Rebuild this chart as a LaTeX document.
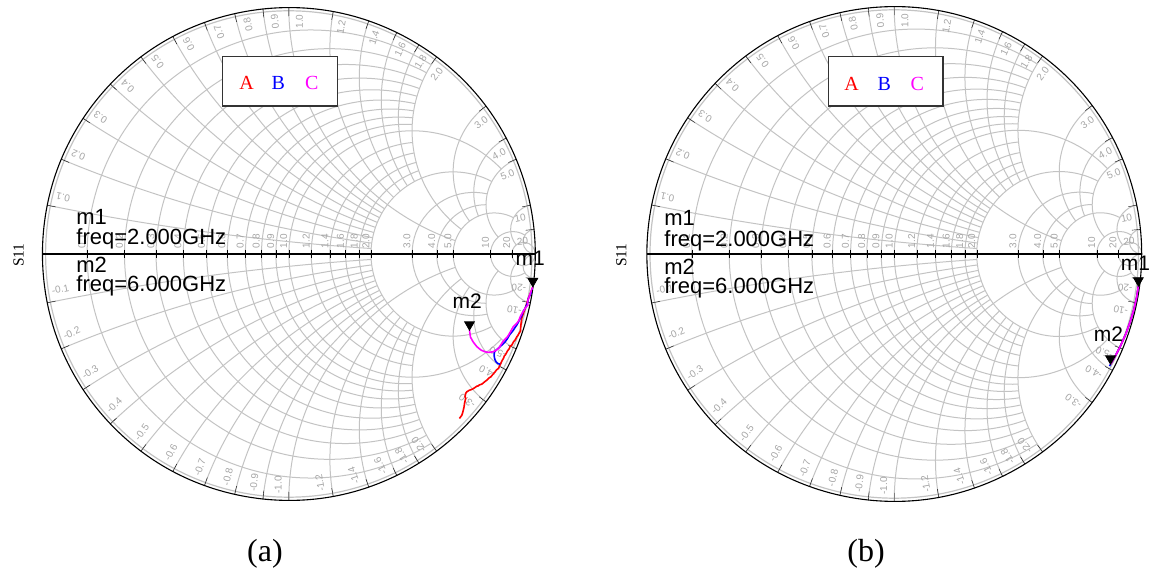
\documentclass[border=0pt]{standalone}
\usepackage{pgfplots}
\pgfplotsset{compat=1.18}
\usepgfplotslibrary{smithchart}
\usepackage{fontspec}
\setmainfont{Liberation Serif}
\newfontfamily\arial{Liberation Sans}
\definecolor{gridgray}{RGB}{195,195,195}
\definecolor{labgray}{RGB}{165,165,165}
\definecolor{cmag}{RGB}{255,0,255}

\pgfplotsset{
  myS/.style={
    scale only axis, width=#1, height=#1,
    anchor=center,
    xtick={0.1,0.2,0.3,0.4,0.5,0.6,0.7,0.8,0.9,1.0,1.2,1.4,1.6,1.8,2,3,4,5,10,20},
    xticklabels={0.1,0.2,0.3,0.4,0.5,0.6,0.7,0.8,0.9,1.0,1.2,1.4,1.6,1.8,2.0,3.0,4.0,5.0,10,20},
    ytick={-20,-10,-5,-4,-3,-2,-1.8,-1.6,-1.4,-1.2,-1,-0.9,-0.8,-0.7,-0.6,-0.5,-0.4,-0.3,-0.2,-0.1,0.1,0.2,0.3,0.4,0.5,0.6,0.7,0.8,0.9,1,1.2,1.4,1.6,1.8,2,3,4,5,10,20},
    yticklabels={-20,-10,-5.0,-4.0,-3.0,-2.0,-1.8,-1.6,-1.4,-1.2,-1.0,-0.9,-0.8,-0.7,-0.6,-0.5,-0.4,-0.3,-0.2,-0.1,0.1,0.2,0.3,0.4,0.5,0.6,0.7,0.8,0.9,1.0,1.2,1.4,1.6,1.8,2.0,3.0,4.0,5.0,10,20},
    xgrid stop at y={0.1:2,0.2:2,0.3:2,0.4:2,0.5:2,0.6:2,0.7:2,0.8:2,0.9:2,1:5,1.2:2,1.4:2,1.6:2,1.8:2,2:5,3:5,4:5,5:10,10:20},
    ygrid stop at x={-10:20,-5:10,-4:5,-3:5,-2:5,-1.8:2,-1.6:2,-1.4:2,-1.2:2,-1:5,-0.9:2,-0.8:2,-0.7:2,-0.6:2,-0.5:2,-0.4:2,-0.3:2,-0.2:2,-0.1:2,0.1:2,0.2:2,0.3:2,0.4:2,0.5:2,0.6:2,0.7:2,0.8:2,0.9:2,1:5,1.2:2,1.4:2,1.6:2,1.8:2,2:5,3:5,4:5,5:10,10:20},
    grid style={gridgray, line width=0.5pt},
    axis line style={black, line width=0.55pt},
    xticklabel style={font=\arial\fontsize{5}{6}\selectfont, text=labgray, rotate=90, anchor=south west, inner sep=0.6pt},
    yticklabel style={font=\arial\fontsize{5}{6}\selectfont, text=labgray},
    yticklabel in circle,
  },
  crv/.style={line width=0.8pt, is smithchart cs},
  mk/.style={only marks, mark=triangle*, mark size=2.8pt,
    mark options={black, fill=black, yshift=2.8pt, rotate=180},
    is smithchart cs, nodes near coords, point meta=explicit symbolic},
}

\begin{document}
\begin{tikzpicture}
% ---------------- (a) ----------------
\draw[gridgray, line width=0.6pt] (144.4pt,-127pt) circle (121.6pt);
\begin{smithchart}[myS=246.5pt, at={(144.4pt,-127pt)}]
\addplot[red, crv] coordinates {
(0.990,-0.135) (0.972,-0.180) (0.959,-0.220) (0.945,-0.260) (0.941,-0.292)
(0.940,-0.313) (0.934,-0.322) (0.929,-0.331) (0.926,-0.334) (0.924,-0.338) (0.918,-0.349)
(0.912,-0.356) (0.905,-0.369) (0.898,-0.374) (0.895,-0.383) (0.888,-0.392)
(0.882,-0.403) (0.878,-0.410) (0.874,-0.414) (0.871,-0.423) (0.866,-0.431) (0.860,-0.444)
(0.856,-0.452) (0.851,-0.464) (0.843,-0.470) (0.837,-0.478) (0.829,-0.487)
(0.820,-0.498) (0.812,-0.503) (0.803,-0.512) (0.794,-0.519) (0.783,-0.528)
(0.773,-0.531) (0.769,-0.535) (0.763,-0.536) (0.752,-0.544) (0.743,-0.549) (0.732,-0.553)
(0.722,-0.559) (0.719,-0.563) (0.717,-0.568) (0.715,-0.579) (0.718,-0.586) (0.716,-0.592) (0.713,-0.606)
(0.711,-0.620) (0.708,-0.633) (0.705,-0.645) (0.702,-0.654) (0.697,-0.661)
(0.692,-0.667)};
\addplot[blue, crv] coordinates {
(0.990,-0.135) (0.982,-0.160) (0.972,-0.180) (0.968,-0.200) (0.959,-0.220)
(0.950,-0.234) (0.946,-0.248) (0.939,-0.261) (0.932,-0.275) (0.925,-0.288)
(0.918,-0.298) (0.911,-0.309) (0.903,-0.319) (0.895,-0.329) (0.887,-0.343)
(0.878,-0.356) (0.868,-0.366) (0.857,-0.376) (0.848,-0.384) (0.841,-0.390)
(0.834,-0.398) (0.833,-0.410) (0.834,-0.420) (0.837,-0.430) (0.842,-0.439)
(0.847,-0.444) (0.857,-0.447)};
\addplot[cmag, crv] coordinates {
(0.990,-0.133) (0.979,-0.162) (0.968,-0.194) (0.970,-0.207) (0.959,-0.220)
(0.946,-0.241) (0.939,-0.254) (0.933,-0.270) (0.925,-0.281) (0.910,-0.296)
(0.905,-0.305) (0.896,-0.321) (0.887,-0.336) (0.876,-0.347) (0.868,-0.356)
(0.860,-0.369) (0.851,-0.383) (0.839,-0.392) (0.827,-0.397) (0.811,-0.399)
(0.797,-0.397) (0.780,-0.390) (0.763,-0.376) (0.748,-0.357) (0.737,-0.337)
(0.733,-0.309)};
\addplot[mk, every node near coord/.append style={font=\arial\fontsize{10.5}{12}\selectfont, anchor=base, xshift=-1.35pt, yshift=8pt}]
  coordinates {(0.990,-0.133) [m1]};
\addplot[mk, every node near coord/.append style={font=\arial\fontsize{10.5}{12}\selectfont, anchor=base, xshift=-1.15pt, yshift=8pt}]
  coordinates {(0.733,-0.309) [m2]};
\end{smithchart}
% ---------------- (b) ----------------
\draw[gridgray, line width=0.6pt] (447.1pt,-127pt) circle (122.1pt);
\begin{smithchart}[myS=247.5pt, at={(447.1pt,-127pt)}]
\addplot[red, crv] coordinates {
(0.9865,-0.1299) (0.9799,-0.1728) (0.9685,-0.2236) (0.9536,-0.2734)
(0.9361,-0.3223) (0.9151,-0.3697) (0.8954,-0.4081) (0.8741,-0.4454)};
\addplot[blue, crv] coordinates {
(0.9865,-0.1299) (0.9799,-0.1728) (0.9685,-0.2236) (0.9536,-0.2734)
(0.9361,-0.3223) (0.9151,-0.3697) (0.8954,-0.4081) (0.8741,-0.4454) (0.8700,-0.4530)};
\addplot[cmag, crv] coordinates {
(0.9865,-0.1299) (0.9799,-0.1728) (0.9685,-0.2236) (0.9536,-0.2734)
(0.9361,-0.3223) (0.9151,-0.3697) (0.8954,-0.4081) (0.8741,-0.4454)};
\addplot[mk, every node near coord/.append style={font=\arial\fontsize{10.5}{12}\selectfont, anchor=base, xshift=-1.5pt, yshift=5pt}]
  coordinates {(0.9865,-0.1299) [m1]};
\addplot[mk, every node near coord/.append style={font=\arial\fontsize{10.5}{12}\selectfont, anchor=base, xshift=-1pt, yshift=8.6pt}]
  coordinates {(0.8741,-0.4454) [m2]};
\end{smithchart}
% ---------------- annotations ----------------
\node[draw=black!80, line width=0.7pt, fill=white, minimum width=57.3pt, minimum height=24.65pt, inner sep=0] at (140pt,-40.7pt) {};
\node[anchor=base, text=red, font=\fontsize{10}{12}\selectfont] at (123.35pt,-45pt) {A};
\node[anchor=base, text=blue, font=\fontsize{10}{12}\selectfont] at (139.15pt,-45pt) {B};
\node[anchor=base, text=cmag, font=\fontsize{10}{12}\selectfont] at (155.85pt,-45pt) {C};
\node[draw=black!80, line width=0.7pt, fill=white, minimum width=57.3pt, minimum height=24.65pt, inner sep=0] at (442.9pt,-40.7pt) {};
\node[anchor=base, text=red, font=\fontsize{10}{12}\selectfont] at (425.85pt,-45.2pt) {A};
\node[anchor=base, text=blue, font=\fontsize{10}{12}\selectfont] at (442.15pt,-45.2pt) {B};
\node[anchor=base, text=cmag, font=\fontsize{10}{12}\selectfont] at (458.65pt,-45.2pt) {C};
% marker readouts
\begin{scope}[every node/.style={anchor=base west, inner sep=0, font=\arial\fontsize{11}{13}\selectfont}]
\node at (38pt,-112.5pt) {m1};
\node at (38pt,-122.5pt) {freq=2.000GHz};
\node at (38pt,-136.5pt) {m2};
\node at (38pt,-145.9pt) {freq=6.000GHz};
\node at (332pt,-112.9pt) {m1};
\node at (332pt,-123.3pt) {freq=2.000GHz};
\node at (332pt,-137.5pt) {m2};
\node at (332pt,-147pt) {freq=6.000GHz};
\end{scope}
\node[rotate=90, font=\fontsize{7.7}{9}\selectfont, inner sep=0] at (9.25pt,-127.5pt) {S11};
\node[rotate=90, font=\fontsize{7.7}{9}\selectfont, inner sep=0] at (310.65pt,-127.5pt) {S11};
\node[anchor=base, font=\fontsize{16}{19}\selectfont, inner sep=0] at (132.5pt,-280.5pt) {(a)};
\node[anchor=base, font=\fontsize{16}{19}\selectfont, inner sep=0] at (433pt,-280.5pt) {(b)};
\pgfresetboundingbox
\path[use as bounding box] (0,0) rectangle (577.5pt,-288pt);
\end{tikzpicture}
\end{document}
